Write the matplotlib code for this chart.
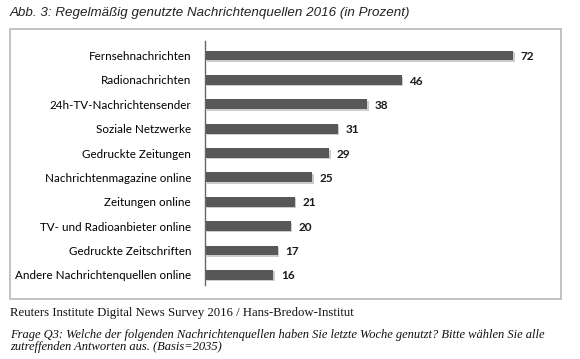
import matplotlib.pyplot as plt
from matplotlib.patches import Rectangle

# Data
categories = [
    "Fernsehnachrichten",
    "Radionachrichten",
    "24h-TV-Nachrichtensender",
    "Soziale Netzwerke",
    "Gedruckte Zeitungen",
    "Nachrichtenmagazine online",
    "Zeitungen online",
    "TV- und Radioanbieter online",
    "Gedruckte Zeitschriften",
    "Andere Nachrichtenquellen online",
]
values = [72, 46, 38, 31, 29, 25, 21, 20, 17, 16]

W, H = 580, 359
fig = plt.figure(figsize=(W / 100, H / 100), dpi=100)
fig.patch.set_facecolor("white")

# frame around the chart
fig.patches.append(Rectangle((10 / W, 1 - 299 / H), 551 / W, 270 / H,
                             transform=fig.transFigure, fill=False,
                             edgecolor="#b8b8b8", linewidth=1.2))

# axes placed in pixel coords
left, right, top, bottom = 205, 547, 41, 285
ax = fig.add_axes([left / W, 1 - bottom / H, (right - left) / W, (bottom - top) / H])

pos = list(range(len(categories)))
# soft shadow, then bar
ax.barh([p + 0.06 for p in pos], values, left=0.4, height=0.4, color="#cccccc", zorder=1)
ax.barh(pos, values, height=0.4, color="#585858", zorder=2)

for p, v in zip(pos, values):
    ax.text(v + 1.8, p + 0.05, str(v), va="center", ha="left",
            fontsize=8.5, fontweight="bold", family="Lato", color="#1a1a1a")

ax.set_yticks(pos)
ax.set_yticklabels(categories, fontsize=8.4, family="Lato", color="#000000")
ax.tick_params(axis="y", length=0, pad=10)
ax.set_xticks([])
ax.set_xlim(0, 80)
ax.set_ylim(9.42, -0.6)
for s in ["top", "right", "bottom"]:
    ax.spines[s].set_visible(False)
ax.spines["left"].set_color("#666666")
ax.spines["left"].set_linewidth(1)

# title and notes
fig.text(10 / W, 1 - 13 / H, "Abb. 3: Regelmäßig genutzte Nachrichtenquellen 2016 (in Prozent)",
         fontsize=9.6, fontstyle="italic", family="Liberation Sans",
         color="#222222", va="center")
fig.text(10 / W, 1 - 313 / H, "Reuters Institute Digital News Survey 2016 / Hans-Bredow-Institut",
         fontsize=9.2, family="Liberation Serif", color="#111111", va="center")
fig.text(10 / W, 1 - 341 / H,
         "Frage Q3: Welche der folgenden Nachrichtenquellen haben Sie letzte Woche genutzt? Bitte wählen Sie alle\n"
         "zutreffenden Antworten aus. (Basis=2035)",
         fontsize=9, fontstyle="italic", family="Liberation Serif", color="#111111",
         va="center", linespacing=1.0)

plt.savefig("out.png", dpi=100)
